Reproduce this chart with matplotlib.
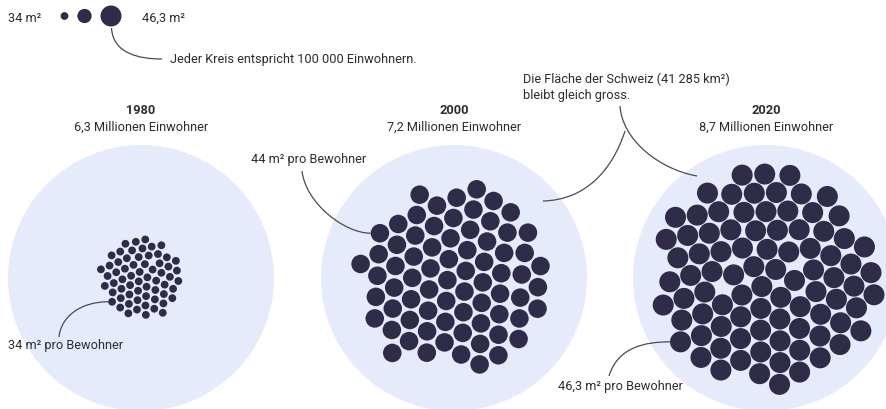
import numpy as np
import matplotlib.pyplot as plt
from matplotlib.patches import Circle, PathPatch
from matplotlib.path import Path

plt.rcParams['font.family'] = ['Roboto', 'DejaVu Sans']

# data
years = ["1980", "2000", "2020"]
population_mio = [6.3, 7.2, 8.7]
pop_labels = ["6,3 Millionen Einwohner", "7,2 Millionen Einwohner", "8,7 Millionen Einwohner"]
area_per_person = [34, 44, 46.3]
area_labels = ["34 m² pro Bewohner", "44 m² pro Bewohner", "46,3 m² pro Bewohner"]
people_per_dot = 100000
legend_labels = ["34 m²", "46,3 m²"]

BG = "#e6ebfb"
DOT = "#2e2c48"
TXT = "#2b2b33"
LINE = "#4a4a55"
FS = 9.2


def dot_radius(a):
    # linear scale: 34 m2 -> 3.9 px, 46.3 m2 -> 10.5 px
    lo, hi = min(area_per_person), max(area_per_person)
    return 3.9 + (a - lo) / (hi - lo) * (10.5 - 3.9)


def pack(n, r, gap, iters=600):
    d = 2 * r + gap
    golden = np.pi * (3 - np.sqrt(5))
    i = np.arange(n)
    rad = d * 0.55 * np.sqrt(i + 0.5)
    th = i * golden
    p = np.c_[rad * np.cos(th), rad * np.sin(th)]
    for k in range(iters):
        diff = p[:, None, :] - p[None, :, :]
        dist = np.sqrt((diff ** 2).sum(-1)) + np.eye(n) * 1e9
        overlap = np.clip(d - dist, 0, None)
        p += (diff / dist[..., None] * overlap[..., None]).sum(1) * 0.5
        if k < iters - 100:
            p -= p * 0.01
    return p


def curve(ax, pts):
    codes = [Path.MOVETO] + [Path.CURVE4] * (len(pts) - 1)
    ax.add_patch(PathPatch(Path(pts, codes), fc="none", ec=LINE, lw=0.9))


fig = plt.figure(figsize=(8.87, 4.10), dpi=100)
ax = fig.add_axes([0, 0, 1, 1])
ax.set_xlim(0, 887)
ax.set_ylim(410, 0)
ax.axis("off")

centers_x = [141, 454, 766]
cy = 279
R = 133
gaps = [1.6, 2.0, 0.8]
targets = [(108, 304), (386, 224), (683, 333)]
picked = []

for j, yr in enumerate(years):
    cx = centers_x[j]
    ax.add_patch(Circle((cx, cy), R, fc=BG, ec="none"))
    ax.text(cx, 111, yr, ha="center", va="center", fontsize=FS, fontweight="bold", color=TXT)
    ax.text(cx, 127, pop_labels[j], ha="center", va="center", fontsize=FS, color=TXT)

    n = int(round(population_mio[j] * 1e6 / people_per_dot))
    r = dot_radius(area_per_person[j])
    p = pack(n, r, gap=gaps[j])
    p[:, 0] += cx
    p[:, 1] += cy
    for x, y in p:
        ax.add_patch(Circle((x, y), r, fc=DOT, ec="none"))
    tx, ty = targets[j]
    k = np.argmin((p[:, 0] - tx) ** 2 + (p[:, 1] - ty) ** 2)
    picked.append((p[k, 0] - r, p[k, 1]))

# legend
ax.text(8, 18, legend_labels[0], ha="left", va="center", fontsize=FS, color=TXT)
ax.text(142, 18, legend_labels[1], ha="left", va="center", fontsize=FS, color=TXT)
for x, a in zip([64.5, 84.5, 111], [34, 40, 46.3]):
    ax.add_patch(Circle((x, 17), dot_radius(a), fc=DOT, ec="none"))
curve(ax, [(111.5, 29), (113, 55), (140, 60), (162, 60)])
ax.text(170, 60, "Jeder Kreis entspricht 100 000 Einwohnern.", ha="left", va="center",
        fontsize=FS, color=TXT)

# Fläche annotation
ax.text(523, 87.5, "Die Fläche der Schweiz (41 285 km²)\nbleibt gleich gross.", ha="left",
        va="center", fontsize=FS, color=TXT, linespacing=1.25)
curve(ax, [(620, 107), (622, 140), (658, 170), (697, 177)])
curve(ax, [(625, 132), (612, 172), (585, 201), (543, 202)])

# m2 per person annotations
ax.text(8, 346, area_labels[0], ha="left", va="center", fontsize=FS, color=TXT)
x1, y1 = picked[0]
curve(ax, [(59, 338), (61, 318), (80, y1), (x1, y1)])

ax.text(251, 160, area_labels[1], ha="left", va="center", fontsize=FS, color=TXT)
x1, y1 = picked[1]
curve(ax, [(302, 172), (306, 205), (345, y1), (x1, y1)])

ax.text(558, 387, area_labels[2], ha="left", va="center", fontsize=FS, color=TXT)
x1, y1 = picked[2]
curve(ax, [(609, 377), (618, 348), (645, y1), (x1, y1)])

fig.savefig("out.png", dpi=100)
